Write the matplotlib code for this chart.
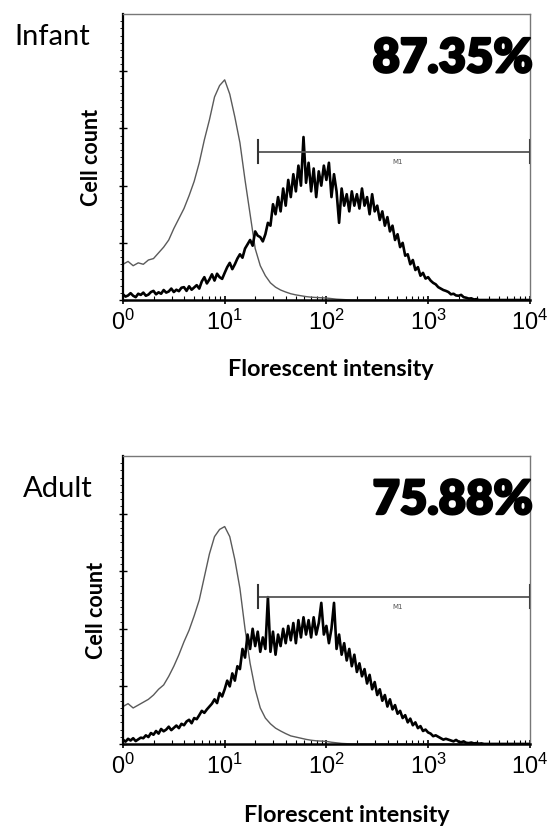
import numpy as np
import matplotlib
matplotlib.use('Agg')
import matplotlib.pyplot as plt
import matplotlib.patheffects as pe
from matplotlib.ticker import FixedLocator, LogLocator, NullFormatter

plt.rcParams['mathtext.fontset'] = 'custom'
plt.rcParams['mathtext.rm'] = 'Liberation Sans'
plt.rcParams['mathtext.it'] = 'Liberation Sans'

# channel grids (log10 of intensity)
fineChannels = np.linspace(0, 4, 161)
coarseChannels = np.linspace(0, 4, 81)

# Infant - stained sample (thick) and isotype control (thin), % of axis height
infantStained = [
    2.0, 1.2, 1.6, 2.4, 1.5, 1.0, 2.2, 1.8,
    2.6, 1.5, 1.9, 2.8, 3.2, 2.0, 2.7, 2.2,
    3.5, 2.6, 3.0, 4.0, 2.8, 3.6, 3.1, 4.3,
    4.5, 3.2, 4.8, 3.6, 4.4, 5.2, 4.0, 6.5,
    8.0, 5.8, 7.2, 9.0, 6.8, 9.2, 8.0, 7.4,
    9.5, 11.5, 13.0, 10.8, 12.5, 14.5, 16.0, 14.8,
    18.0, 19.5, 21.0, 19.0, 24.0, 22.5, 22.0, 20.5,
    23.0, 27.0, 26.0, 33.5, 30.0, 36.0, 31.0, 39.0,
    33.0, 42.0, 36.0, 44.0, 38.0, 47.0, 40.0, 57.0,
    41.0, 48.0, 38.0, 46.0, 36.0, 45.0, 40.0, 47.0,
    42.0, 48.0, 36.0, 44.0, 38.0, 27.0, 39.0, 33.0,
    37.0, 31.0, 38.0, 33.0, 37.0, 32.0, 39.0, 33.0,
    36.0, 30.0, 37.0, 31.0, 33.0, 28.0, 31.0, 26.0,
    29.0, 24.0, 26.0, 21.0, 23.0, 18.5, 20.0, 15.5,
    16.0, 12.5, 14.0, 10.5, 11.5, 8.5, 9.5, 7.5,
    8.0, 6.8, 6.0, 5.5, 4.5, 4.0, 3.5, 3.2,
    2.8, 2.0, 2.2, 1.6, 1.5, 1.8, 1.0, 0.8,
    0.5, 0.6, 0.2, 0.3, 0, 0, 0, 0,
    0, 0, 0, 0, 0, 0, 0, 0,
    0, 0, 0, 0, 0, 0, 0, 0,
    0,
]
infantControl = [
    12.5, 13.5, 12.0, 13.0, 12.5, 14.0, 14.5, 16.5, 18.5, 21.0,
    25.0, 28.5, 32.0, 36.5, 41.5, 48.0, 56.0, 63.0, 71.0, 75.0,
    77.0, 72.0, 64.0, 55.0, 42.0, 30.0, 18.0, 12.0, 8.5, 6.0,
    4.5, 3.5, 2.8, 2.2, 1.8, 1.5, 1.2, 1.0, 0.9, 0.8,
    0.7, 0.5, 0.3, 0.2, 0.1,
] + [0] * 36

# Adult
adultStained = [
    1.5, 0.8, 1.8, 1.2, 2.0, 1.0, 1.6, 2.2,
    2.0, 3.0, 2.4, 3.8, 3.2, 4.5, 3.6, 5.2,
    4.4, 5.0, 6.0, 4.8, 5.6, 6.4, 5.5, 7.0,
    6.5, 7.8, 8.4, 7.2, 9.0, 8.6, 10.0, 11.5,
    10.8, 12.0, 13.0, 14.0, 15.5, 14.2, 17.7, 16.5,
    19.0, 22.0, 20.0, 24.5, 22.0, 27.0, 26.0, 33.0,
    30.0, 38.0, 33.0, 40.0, 34.0, 39.0, 32.0, 37.0,
    33.0, 51.0, 32.0, 39.0, 31.0, 38.0, 34.0, 40.0,
    35.0, 41.0, 36.0, 42.0, 35.0, 43.0, 37.0, 44.0,
    38.0, 43.0, 37.0, 44.0, 38.0, 42.0, 49.0, 38.0,
    41.0, 35.0, 40.0, 49.0, 33.0, 38.0, 31.0, 35.0,
    29.0, 33.0, 27.0, 31.0, 25.0, 28.0, 23.5, 26.0,
    21.0, 24.0, 19.0, 21.5, 17.0, 19.0, 15.0, 17.0,
    13.0, 15.5, 12.0, 13.5, 10.5, 11.5, 9.0, 10.0,
    7.5, 8.8, 6.5, 7.5, 5.5, 6.2, 4.5, 5.0,
    4.0, 3.6, 2.7, 3.0, 2.5, 2.0, 1.5, 1.8,
    1.5, 1.2, 0.9, 1.4, 0.8, 0.6, 0.9, 0.4,
    0.3, 0.5, 0.2, 0.3, 0.1, 0.2, 0, 0,
    0, 0, 0, 0, 0, 0, 0, 0,
    0, 0, 0, 0, 0, 0, 0, 0,
    0,
]
adultControl = [
    13.0, 14.0, 12.5, 13.5, 14.5, 15.5, 17.0, 19.0, 20.5, 23.5,
    27.0, 31.0, 35.5, 39.5, 44.5, 50.0, 58.0, 66.0, 72.0, 74.5,
    75.5, 72.0, 64.0, 54.0, 40.0, 28.0, 19.0, 12.5, 9.0, 7.0,
    5.5, 4.5, 3.6, 2.8, 2.4, 2.0, 1.6, 1.3, 1.1, 1.0,
    0.9, 0.6, 0.4, 0.2, 0.1,
] + [0] * 36

panelNames = ['Infant', 'Adult']
percentLabels = ['87.35%', '75.88%']
markerLevels = [51.9, 51.2]
markerRange = [10 ** 1.33, 10 ** 4]
tickLabels = [r'$0^{0}$', r'$10^{1}$', r'$10^{2}$', r'$10^{3}$', r'$10^{4}$']

fig = plt.figure(figsize=(5.49, 8.27), dpi=100)
axesRects = [[0.224, 0.6372, 0.741, 0.3458], [0.224, 0.1004, 0.741, 0.3482]]
stainedData = [infantStained, adultStained]
controlData = [infantControl, adultControl]
nameXY = [(0.027, 0.955), (0.042, 0.409)]
percentY = [0.845, 0.847]
ylabelXY = [(-0.052, 0.5), (-0.039, 0.465)]
xlabelXY = [(0.511, -0.206), (0.55, -0.212)]

for i in range(2):
    ax = fig.add_axes(axesRects[i])
    ax.plot(10 ** coarseChannels, controlData[i], color='#5a5a5a', lw=1.0)
    ax.plot(10 ** fineChannels, stainedData[i], color='black', lw=1.9)
    ax.set_xscale('log')
    ax.set_xlim(1, 1e4)
    ax.set_ylim(0, 100)

    # M1 marker
    lvl = markerLevels[i]
    ax.plot(markerRange, [lvl, lvl], color='#555555', lw=1.3)
    for xm in markerRange:
        ax.plot([xm, xm], [lvl - 4, lvl + 4], color='#333333', lw=1.5)
    ax.text(10 ** 2.7, lvl - 2.5, 'M1', fontsize=5, color='#555555',
            ha='center', va='top')

    ax.xaxis.set_major_locator(FixedLocator([1, 10, 100, 1000, 10000]))
    ax.set_xticklabels(tickLabels, fontsize=17)
    ax.xaxis.set_minor_locator(LogLocator(base=10, subs=np.arange(2, 10), numticks=20))
    ax.xaxis.set_minor_formatter(NullFormatter())
    ax.tick_params(axis='x', which='major', direction='inout', length=6, width=1.2, pad=4)
    ax.tick_params(axis='x', which='minor', direction='in', length=3, width=0.8)

    ax.set_yticks([0, 20, 40, 60, 80])
    ax.set_yticks(np.arange(0, 100, 2.5), minor=True)
    ax.set_yticklabels([])
    ax.tick_params(axis='y', which='major', direction='inout', length=6, width=1.0)
    ax.tick_params(axis='y', which='minor', direction='out', length=2, width=0.6)

    for side in ['top', 'right']:
        ax.spines[side].set_color('#777777')
        ax.spines[side].set_linewidth(1.0)
    ax.spines['left'].set_linewidth(1.6)
    ax.spines['bottom'].set_linewidth(1.8)

    ax.set_ylabel('Cell count', fontsize=15.5, fontweight='bold', family='Lato')
    ax.yaxis.set_label_coords(*ylabelXY[i])
    ax.set_xlabel('Florescent intensity', fontsize=16.8, fontweight='bold', family='Lato')
    ax.xaxis.set_label_coords(*xlabelXY[i])

    ax.text(1.008, percentY[i], percentLabels[i], transform=ax.transAxes, fontsize=34,
            fontweight='heavy', family='Lato', ha='right', va='center',
            path_effects=[pe.withStroke(linewidth=1.6, foreground='black')])
    fig.text(nameXY[i][0], nameXY[i][1], panelNames[i], fontsize=21, family='Lato',
             ha='left', va='center')

plt.savefig('out.png', dpi=100)
plt.close()
